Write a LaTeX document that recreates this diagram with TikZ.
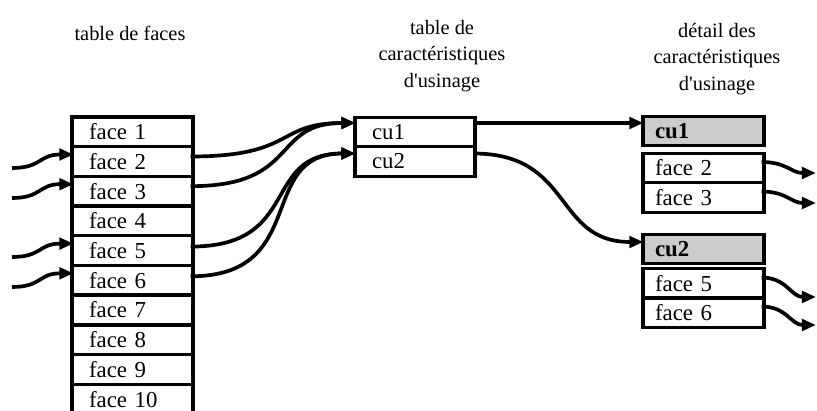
\documentclass[tikz,border=0pt]{standalone}
\usepackage{fontspec}
\setmainfont{Liberation Serif}
\usetikzlibrary{arrows.meta,positioning,calc}

\begin{document}
\begin{tikzpicture}[x=0.02cm, y=-0.02cm,
    hdr/.style={align=center, font=\fontsize{11.6}{15.2}\selectfont},
    facerow/.style={rectangle, draw, line width=1.8pt, minimum height=0.59cm,
                    text width=1.74cm, inner xsep=0.34cm, align=left,
                    font=\fontsize{13}{15}\selectfont},
    cubox/.style={facerow, text width=1.72cm, inner xsep=0.34cm},
    detbox/.style={facerow, text width=1.94cm, inner xsep=0.24cm},
    detcu/.style={detbox, fill=black!20, font=\fontsize{13}{15}\selectfont\bfseries},
    arr/.style={-{Triangle[length=8pt,width=6.5pt]}, line width=2.1pt}
  ]
    \useasboundingbox (0,0) rectangle (817,411);

    % headers
    \node[hdr] (h1) at (130,33) {table de faces};
    \node[hdr] (h2) at (442,56) {table de\\caractéristiques\\d\textquotesingle usinage};
    \node[hdr] (h3) at (717,59) {détail des\\caractéristiques\\d\textquotesingle usinage};

    % table de faces
    \foreach \i in {1,...,10}
      \node[facerow] (f\i) at (132.5, {131.8+29.7*(\i-1)}) {face \i};

    % table de caracteristiques
    \node[cubox] (tc1) at (415,132)   {cu1};
    \node[cubox] (tc2) at (415,161.5) {cu2};

    % detail des caracteristiques
    \node[detcu]  (dcu1) at (703.5,131)   {cu1};
    \node[detbox] (df2)  at (703.5,168)   {face 2};
    \node[detbox] (df3)  at (703.5,197.5) {face 3};
    \node[detcu]  (dcu2) at (703.5,249)   {cu2};
    \node[detbox] (df5)  at (703.5,283.5) {face 5};
    \node[detbox] (df6)  at (703.5,312.5) {face 6};

    % free ends
    \coordinate (in2) at (12,168);
    \coordinate (in3) at (12,198);
    \coordinate (in5) at (12,257);
    \coordinate (in6) at (12,287);
    \coordinate (out2) at (816,173);
    \coordinate (out3) at (816,203);
    \coordinate (out5) at (816,297);
    \coordinate (out6) at (816,325);

    % arrows into the face table
    \foreach \i in {2,3,5,6}
      \draw[arr] (in\i) .. controls +(30,0) and +(-35,0) .. ($(f\i.west)+(3,-7)$);

    % faces -> table de caracteristiques
    \draw[arr] ($(f2.east)+(-4,-5)$) .. controls +(105,0) and +(-80,0) .. ($(tc1.west)+(2,-9)$);
    \draw[arr] ($(f3.east)+(-4,-5)$) .. controls +(110,0) and +(-85,0) .. ($(tc1.west)+(2,-9)$);
    \draw[arr] ($(f5.east)+(-4,-4)$) .. controls +(112,0) and +(-95,0) .. ($(tc2.west)+(2,-8)$);
    \draw[arr] ($(f6.east)+(-4,-4)$) .. controls +(120,0) and +(-100,0) .. ($(tc2.west)+(2,-8)$);

    % table de caracteristiques -> detail
    \draw[arr] ($(tc1.east)+(-3,-9)$) -- ($(dcu1.west)+(2,-8)$);
    \draw[arr] ($(tc2.east)+(-3,-8)$) .. controls +(100,0) and +(-90,0) .. ($(dcu2.west)+(2,-7)$);

    % detail -> faces
    \foreach \i in {2,3,5,6}
      \draw[arr] ($(df\i.east)+(-4,-6)$) .. controls +(25,0) and +(-25,0) .. (out\i);
  \end{tikzpicture}
\end{document}
